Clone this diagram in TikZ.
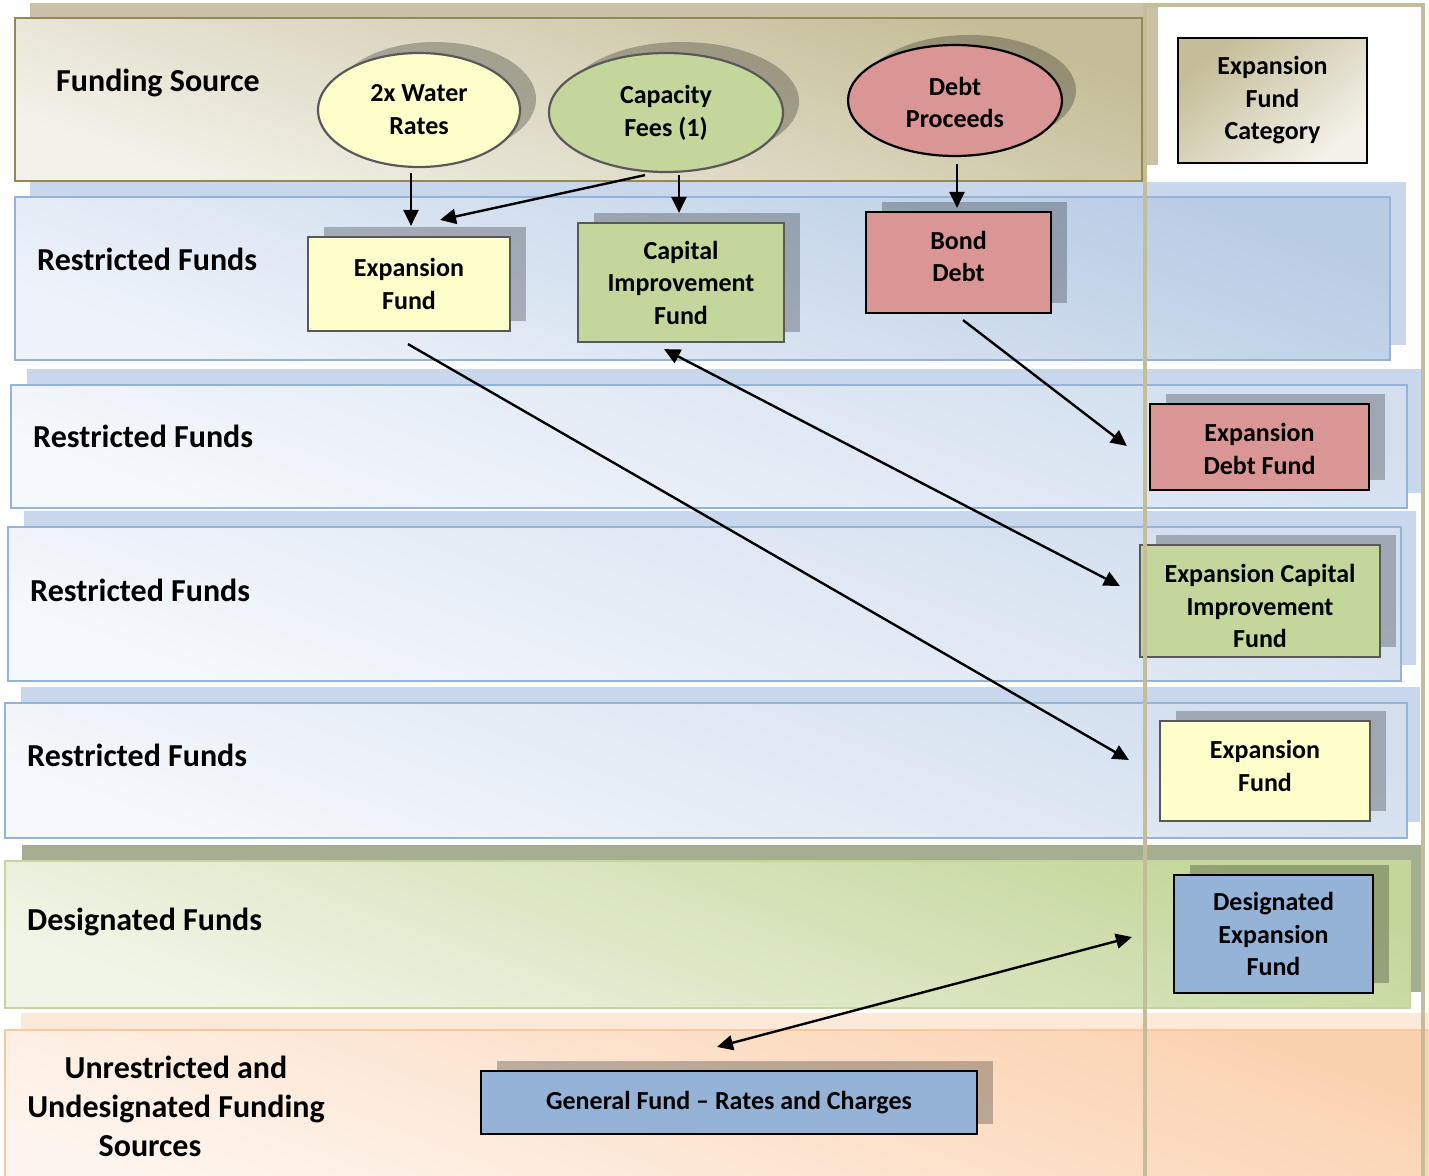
\documentclass[tikz,border=0pt]{standalone}
\usepackage{fontspec}
\setmainfont{Carlito}
\usetikzlibrary{arrows.meta,calc,shapes.geometric,shadows}
\definecolor{tanD}{HTML}{C4BD97}
\definecolor{tanL}{HTML}{F4F1EA}
\definecolor{tanB}{HTML}{938953}
\definecolor{tanS}{HTML}{C9C2A6}
\definecolor{bluD}{HTML}{B8CCE4}
\definecolor{bluL}{HTML}{EEF3FA}
\definecolor{bluM}{HTML}{D3DFEF}
\definecolor{bluLL}{HTML}{F5F8FC}
\definecolor{bluB}{HTML}{95B3D7}
\definecolor{bluS}{HTML}{C8D7EB}
\definecolor{grnD}{HTML}{C4D79B}
\definecolor{grnL}{HTML}{F1F5E8}
\definecolor{grnB}{HTML}{C3D69B}
\definecolor{grnS}{HTML}{A6AE92}
\definecolor{pchD}{HTML}{FBD2B0}
\definecolor{pchL}{HTML}{FEF5EE}
\definecolor{pchB}{HTML}{FAC8A0}
\definecolor{pchS}{HTML}{FDE9D9}
\definecolor{yel}{HTML}{FFFFCC}
\definecolor{grn}{HTML}{C3D69B}
\definecolor{red}{HTML}{DA9694}
\definecolor{blu}{HTML}{95B3D7}
\definecolor{gbord}{HTML}{595959}
\begin{document}
\begin{tikzpicture}[x=1pt,y=-1pt,
  bandA/.style={draw=tanB,line width=2.5pt,shading=axis,top color=tanD,bottom color=tanL,shading angle=-20},
  bandB/.style={draw=bluB,line width=2.5pt,shading=axis,top color=bluD,bottom color=bluL,shading angle=-20},
  bandC/.style={draw=bluB,line width=2.5pt,shading=axis,top color=bluM,bottom color=bluLL,shading angle=-20},
  bandD/.style={draw=grnB,line width=2.5pt,shading=axis,top color=grnD,bottom color=grnL,shading angle=-20},
  bandE/.style={draw=pchB,line width=2.5pt,shading=axis,top color=pchD,bottom color=pchL,shading angle=-20},
  blabel/.style={font=\bfseries\fontsize{32}{39}\selectfont,inner sep=0pt},
  ltx/.style={align=center,inner sep=0pt,font=\bfseries\fontsize{26}{32.5}\selectfont},
  shb/.style={drop shadow={shadow xshift=16pt,shadow yshift=10pt,fill=black,opacity=0.25}},
  fbox/.style={rectangle,draw,line width=2.2pt,inner sep=0pt,align=center,
    font=\bfseries\fontsize{26}{32.5}\selectfont},
  fell/.style={ellipse,draw,line width=2.2pt,inner sep=0pt,align=center,
    font=\bfseries\fontsize{26}{33}\selectfont},
  she/.style={drop shadow={shadow xshift=16pt,shadow yshift=11pt,fill=black,opacity=0.25}},
  arr/.style={line width=2.4pt,-{Triangle[length=16pt,width=15pt]}},
  darr/.style={line width=2.4pt,{Triangle[length=16pt,width=15pt]}-{Triangle[length=16pt,width=15pt]}}
]
\useasboundingbox (0,0) rectangle (1429,1175);
\clip (0,0) rectangle (1429,1175);
\fill[white] (0,0) rectangle (1429,1175);
% bands
\fill[tanS] (30,3) rectangle (1158,165);
\path[bandA] (15,18) rectangle (1142,181);
\fill[bluS] (30,182) rectangle (1406,345);
\path[bandB] (15,197) rectangle (1390,360);
\fill[bluS] (27,369) rectangle (1422,493);
\path[bandC] (11,385) rectangle (1407,508);
\fill[bluS] (24,511) rectangle (1416,665);
\path[bandC] (8,527) rectangle (1401,681);
\fill[bluS] (21,687) rectangle (1420,822);
\path[bandC] (5,703) rectangle (1407,838);
\fill[grnS] (22,845) rectangle (1425,992);
\path[bandD] (5,861) rectangle (1410,1008);
\fill[pchS] (21,1013) rectangle (1450,1200);
\path[bandE] (5,1030) rectangle (1450,1200);
% band labels
\node[blabel,anchor=base west] (lfs) at (56,91) {Funding Source};
\node[blabel,anchor=base west] (lr1) at (37,270) {Restricted Funds};
\node[blabel,anchor=base west] (lr2) at (33,447) {Restricted Funds};
\node[blabel,anchor=base west] (lr3) at (30,601) {Restricted Funds};
\node[blabel,anchor=base west] (lr4) at (27,766) {Restricted Funds};
\node[blabel,anchor=base west] (ldf) at (27,930) {Designated Funds};
\node[blabel,align=center] (lun) at (176,1106) {Unrestricted and\\Undesignated Funding\\Sources\hspace*{52pt}};
% ellipses
\node[fell,she,draw=gbord,fill=yel,minimum width=202pt,minimum height=114pt] (water) at (419,110) {2x Water\\Rates};
\node[fell,she,draw=gbord,fill=grn,minimum width=234pt,minimum height=119pt] (cap) at (666,112.5) {Capacity\\Fees (1)};
\node[fell,draw=black,fill=red,minimum width=214pt,minimum height=111pt,
  drop shadow={shadow xshift=14pt,shadow yshift=10pt,fill=black,opacity=0.25},
  label={[ltx,yshift=-2pt]center:Debt\\Proceeds}] (debt) at (955,100.5) {};
% boxes
\node[fbox,shb,draw=gbord,fill=yel,minimum width=202pt,minimum height=94pt] (ef1) at (409,284) {Expansion\\Fund};
\node[fbox,shb,draw=gbord,fill=grn,minimum width=206pt,minimum height=119pt] (cif) at (681,282.5) {Capital\\Improvement\\Fund};
\node[fbox,shb,draw=black,fill=red,minimum width=185pt,minimum height=101pt,
  label={[ltx,yshift=6pt]center:Bond\\Debt}] (bd) at (958.5,262.5) {};
\node[rectangle,draw=black,line width=2.2pt,inner sep=0pt,align=center,
  font=\bfseries\fontsize{26}{32.5}\selectfont,shading=axis,top color=tanD,bottom color=tanL,shading angle=40,
  minimum width=189pt,minimum height=125pt] (efc) at (1272.5,100.5) {Expansion\\Fund\\Category};
\node[fbox,shb,draw=black,fill=red,minimum width=219pt,minimum height=86pt,
  label={[ltx,yshift=-2pt]center:Expansion\\Debt Fund}] (edf) at (1259.5,447) {};
\node[fbox,shb,draw=gbord,fill=grn,minimum width=240pt,minimum height=112pt,
  label={[ltx,yshift=-5pt]center:Expansion Capital\\Improvement\\Fund}] (ecif) at (1260,601) {};
\node[fbox,shb,draw=gbord,fill=yel,minimum width=210pt,minimum height=100pt,
  label={[ltx,yshift=5pt]center:Expansion\\Fund}] (ef2) at (1265,771) {};
\node[fbox,shb,draw=black,fill=blu,minimum width=199pt,minimum height=118pt] (def) at (1273.5,934) {Designated\\Expansion\\Fund};
\node[fbox,shb,draw=black,fill=blu,minimum width=496pt,minimum height=63pt] (gf) at (729,1102.5) {General Fund -- Rates and Charges};
% arrows
\draw[arr] ($(water.south)+(-8,5)$) -- ($(ef1.north)+(2,-10)$);
\draw[arr] ($(cap.south)+(-21,2)$) -- ($(ef1.north)+(31,-16)$);
\draw[arr] ($(cap.south)+(13,2)$) -- ($(cif.north)+(-2,-9)$);
\draw[arr] ($(debt.south)+(2,7)$) -- ($(bd.north)+(-1.5,-3)$);
\draw[arr] ($(bd.south)+(4.5,6)$) -- ($(edf.west)+(-22,-1)$);
\draw[darr] ($(cif.south)+(-17,6)$) -- ($(ecif.west)+(-19,-15)$);
\draw[arr] ($(ef1.south)+(-1,12)$) -- ($(ef2.west)+(-30,-11)$);
\draw[darr] ($(gf.north)+(-12,-23)$) -- ($(def.west)+(-41,3)$);
% right frame
\draw[tanD,line width=4pt] (1145,5) rectangle (1423,1200);
\end{tikzpicture}
\end{document}
